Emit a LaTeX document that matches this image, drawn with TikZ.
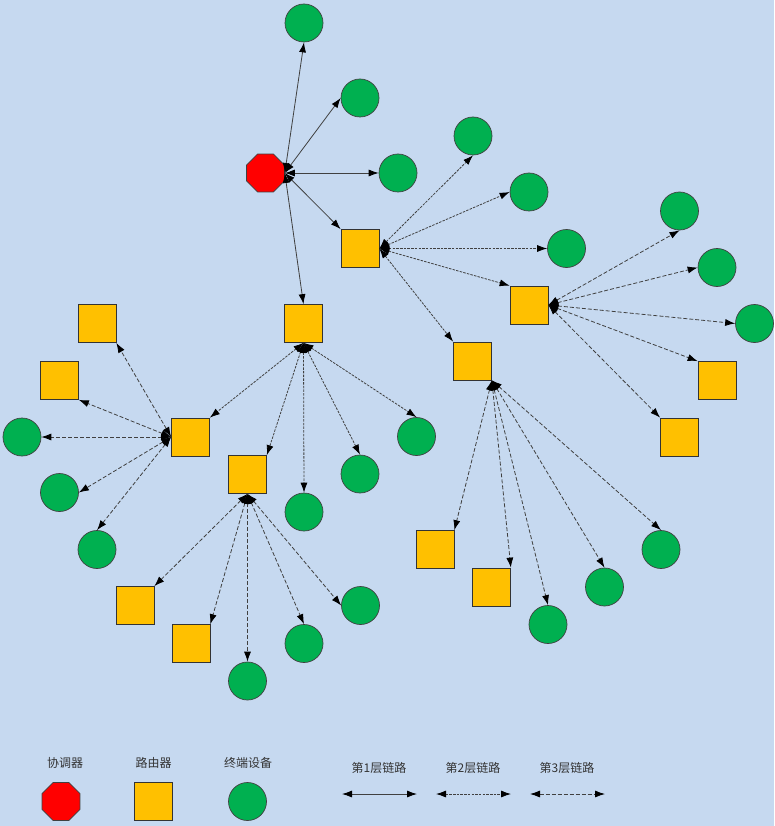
\documentclass[tikz,border=0pt]{standalone}
\usepackage{fontspec}
\newfontfamily\cjkfont{Noto Sans CJK SC}
\usetikzlibrary{arrows.meta, shapes.geometric}
\definecolor{bgblue}{RGB}{198,217,240}
\definecolor{routeryellow}{RGB}{255,192,0}
\definecolor{devicegreen}{RGB}{0,176,80}
\tikzset{
    coordinator/.style={draw=black!75, fill=red, regular polygon, regular polygon sides=8, minimum size=41pt, inner sep=0pt, line width=0.7pt},
    router/.style={draw=black!80, fill=routeryellow, rectangle, minimum size=38pt, inner sep=0pt, line width=0.7pt},
    device/.style={draw=black!75, fill=devicegreen, circle, minimum size=38pt, inner sep=0pt, line width=0.7pt},
    linkbase/.style={draw=black!75, line width=0.8pt, {Latex[black,length=10pt,width=7pt]}-{Latex[black,length=10pt,width=7pt]}},
    linkone/.style={linkbase},
    linktwo/.style={linkbase, dash pattern=on 2.5pt off 1.2pt},
    linkthree/.style={linkbase, dash pattern=on 4pt off 2pt},
    legendtext/.style={font=\cjkfont\fontsize{12pt}{14pt}\selectfont, text=black!80, inner sep=0pt}
}
\begin{document}
\begin{tikzpicture}[x=1pt, y=-1pt]
        \fill[bgblue] (0,0) rectangle (774,826);
        \useasboundingbox (0,0) rectangle (774,826);

        \node[coordinator] (coord) at (265.5,173) {};

        \node[device] (top1) at (304,23) {};
        \node[device] (top2) at (360,98) {};
        \node[device] (top3) at (398,173) {};
        \node[router] (rA) at (360,248.5) {};
        \node[router] (rB) at (303.5,323.5) {};

        \node[device] (a1) at (473,136) {};
        \node[device] (a2) at (529,192) {};
        \node[device] (a3) at (566.5,248.5) {};
        \node[router] (rC) at (529,305) {};
        \node[router] (rD) at (472.5,361) {};

        \node[device] (c1) at (679.5,211) {};
        \node[device] (c2) at (717,267.5) {};
        \node[device] (c3) at (754.5,323.5) {};
        \node[router] (c4) at (717,380.5) {};
        \node[router] (c5) at (679.5,437) {};

        \node[router] (d1) at (435,549.5) {};
        \node[router] (d2) at (491.5,587) {};
        \node[device] (d3) at (548,624.5) {};
        \node[device] (d4) at (604.5,587) {};
        \node[device] (d5) at (661,549.5) {};

        \node[router] (rE) at (190.5,437) {};
        \node[router] (rF) at (247.5,474.5) {};
        \node[device] (b1) at (304,512) {};
        \node[device] (b2) at (360,474) {};
        \node[device] (b3) at (416.5,436.5) {};

        \node[router] (e1) at (97,323.5) {};
        \node[router] (e2) at (59.5,380.5) {};
        \node[device] (e3) at (22,437) {};
        \node[device] (e4) at (59.5,492.5) {};
        \node[device] (e5) at (97,549.5) {};

        \node[router] (f1) at (135,605.5) {};
        \node[router] (f2) at (191,643.5) {};
        \node[device] (f3) at (247.5,681) {};
        \node[device] (f4) at (304,643.5) {};
        \node[device] (f5) at (360.5,605.5) {};

        \draw[linkone] (coord.0) -- (top1.south);
        \draw[linkone] (coord.0) -- (top2.west);
        \draw[linkone] (coord.0) -- (top3.west);
        \draw[linkone] (coord.0) -- (rA.north west);
        \draw[linkone] (coord.0) -- (rB.north);

        \draw[linktwo] (rA.east) -- (a1.south);
        \draw[linktwo] (rA.east) -- (a2.west);
        \draw[linktwo] (rA.east) -- (a3.west);
        \draw[linktwo] (rA.east) -- (rC.north west);
        \draw[linktwo] (rA.east) -- (rD.north west);

        \draw[linktwo] (rB.south) -- (rE.north east);
        \draw[linktwo] (rB.south) -- (rF.north east);
        \draw[linktwo] (rB.south) -- (b1.north);
        \draw[linktwo] (rB.south) -- (b2.north);
        \draw[linktwo] (rB.south) -- (b3.north);

        \draw[linkthree] (rC.east) -- (c1.south);
        \draw[linkthree] (rC.east) -- (c2.west);
        \draw[linkthree] (rC.east) -- (c3.west);
        \draw[linkthree] (rC.east) -- (c4.north west);
        \draw[linkthree] (rC.east) -- (c5.north west);

        \draw[linkthree] (rD.south east) -- (d1.north east);
        \draw[linkthree] (rD.south east) -- (d2.north east);
        \draw[linkthree] (rD.south east) -- (d3.north);
        \draw[linkthree] (rD.south east) -- (d4.north);
        \draw[linkthree] (rD.south east) -- (d5.north);

        \draw[linkthree] (rE.west) -- (e1.south east);
        \draw[linkthree] (rE.west) -- (e2.south east);
        \draw[linkthree] (rE.west) -- (e3.east);
        \draw[linkthree] (rE.west) -- (e4.east);
        \draw[linkthree] (rE.west) -- (e5.north);

        \draw[linkthree] (rF.south) -- (f1.north east);
        \draw[linkthree] (rF.south) -- (f2.north east);
        \draw[linkthree] (rF.south) -- (f3.north);
        \draw[linkthree] (rF.south) -- (f4.north);
        \draw[linkthree] (rF.south) -- (f5.west);

        \node[legendtext] (lblcoord) at (65,762.5) {协调器};
        \node[legendtext] (lblrouter) at (153.5,762.5) {路由器};
        \node[legendtext] (lbldevice) at (248,762.5) {终端设备};
        \node[coordinator] (keycoord) at (61,801.5) {};
        \node[router] (keyrouter) at (153.5,801.5) {};
        \node[device] (keydevice) at (247.5,801.5) {};

        \node[legendtext] (lblone) at (379,767.5) {第1层链路};
        \node[legendtext] (lbltwo) at (473,767.5) {第2层链路};
        \node[legendtext] (lblthree) at (567,767.5) {第3层链路};

        \coordinate (one1) at (342,794);
        \coordinate (one2) at (417,794);
        \coordinate (two1) at (436,794);
        \coordinate (two2) at (511,794);
        \coordinate (three1) at (530,794);
        \coordinate (three2) at (605,794);
        \draw[linkone] (one1) -- (one2);
        \draw[linktwo] (two1) -- (two2);
        \draw[linkthree] (three1) -- (three2);
\end{tikzpicture}
\end{document}
